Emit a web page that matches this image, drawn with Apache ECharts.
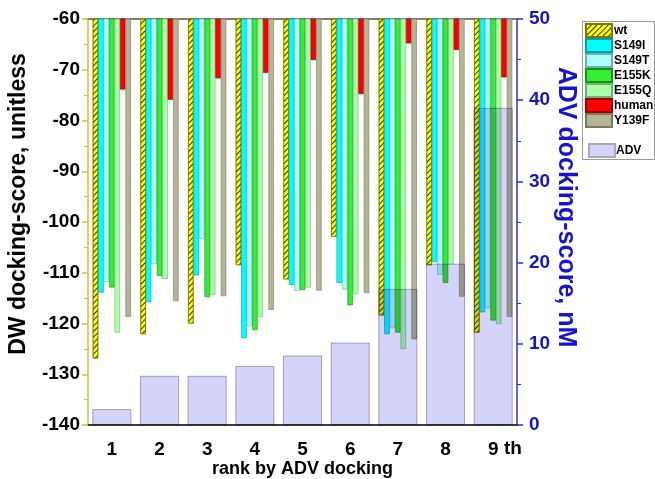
<!DOCTYPE html>
<html>
<head>
<meta charset="utf-8">
<script src="https://cdn.jsdelivr.net/npm/echarts@6/dist/echarts.min.js"></script>
<style>
html,body{margin:0;padding:0;background:#fff;}
#chart{width:655px;height:479px;}
</style>
</head>
<body>
<div id="chart"></div>
<script>
// ---- data ----
var categories = ['1','2','3','4','5','6','7','8','9'];
var wt    = [-126.9, -122.1, -120.0, -108.5, -111.3, -102.9, -118.4, -108.5, -121.8];
var S149I = [-113.9, -115.8, -110.5, -122.9, -112.4, -112.0, -122.1, -107.9, -117.8];
var S149T = [-111.8, -108.3, -103.3, -120.5, -113.6, -113.3, -120.9, -110.4, -117.0];
var E155K = [-112.9, -110.6, -114.8, -121.3, -113.4, -116.4, -121.8, -112.0, -119.4];
var E155Q = [-121.8, -111.2, -114.4, -118.7, -112.9, -114.2, -125.0, -108.3, -120.1];
var human = [-73.9, -75.9, -71.7, -70.6, -68.1, -74.8, -64.8, -66.1, -71.5];
var Y139F = [-118.7, -115.6, -114.6, -117.3, -113.5, -114.0, -123.1, -114.7, -118.7];
var ADV   = [1.9, 6.0, 6.0, 7.2, 8.5, 10.1, 16.7, 19.8, 39.0];
var dwTicks = [-140, -60, 10];   // min, max, interval
var advTicks = [0, 50, 10];

var FONT = '"Liberation Sans", Arial, sans-serif';
var chart = echarts.init(document.getElementById('chart'), null, {renderer: 'canvas'});

function dwSeries(name, data, color, border, extra) {
  var s = {
    name: name, type: 'bar', xAxisIndex: 0, yAxisIndex: 0,
    data: data, barGap: '0%', barCategoryGap: '20%', clip: true,
    itemStyle: {color: color, borderColor: border, borderWidth: 0.6},
    emphasis: {disabled: true}, z: 2
  };
  if (extra) s.itemStyle.decal = extra;
  return s;
}

var hatch = {
  symbol: 'rect', symbolSize: 1, rotation: -Math.PI / 4,
  dashArrayX: [1, 0], dashArrayY: [1, 2.2], color: 'rgba(0,0,0,0.8)'
};

var option = {
  backgroundColor: '#fff',
  animation: false,
  textStyle: {fontFamily: FONT},
  grid: {left: 88, right: 138, top: 19, bottom: 54, containLabel: false, outerBoundsMode: 'none'},
  xAxis: [
    {
      type: 'category', data: categories, position: 'bottom',
      axisLine: {lineStyle: {color: '#000', width: 1.5}},
      axisTick: {alignWithLabel: true, length: 6, lineStyle: {color: '#000', width: 1.5}},
      axisLabel: {color: '#000', fontWeight: 'bold', fontSize: 19, fontFamily: FONT, margin: 15},
      name: 'rank by ADV docking', nameLocation: 'middle', nameGap: 35, nameMoveOverlap: false,
      nameTextStyle: {color: '#000', fontWeight: 'bold', fontSize: 18, fontFamily: FONT},
      splitLine: {show: false}
    },
    {
      type: 'category', data: categories, position: 'bottom',
      axisLine: {show: false},
      axisTick: {length: 3, lineStyle: {color: '#000', width: 1}},
      axisLabel: {show: false}, splitLine: {show: false}
    },
    {
      type: 'category', data: categories, position: 'top',
      axisLine: {lineStyle: {color: '#555', width: 1.5}},
      axisTick: {inside: true, alignWithLabel: true, length: 5, lineStyle: {color: '#000', width: 2}},
      axisLabel: {show: false}, splitLine: {show: false}
    },
    {
      type: 'category', data: categories, position: 'top',
      axisLine: {show: false},
      axisTick: {length: 3, lineStyle: {color: '#000', width: 1}},
      axisLabel: {show: false}, splitLine: {show: false}
    }
  ],
  yAxis: [
    {
      type: 'value', position: 'left', min: dwTicks[0], max: dwTicks[1], interval: dwTicks[2],
      axisLine: {show: true, lineStyle: {color: '#C8C832', width: 1.5}},
      axisTick: {show: true, length: 6, lineStyle: {color: '#C8C832', width: 1.5}},
      minorTick: {show: true, splitNumber: 2, length: 4, lineStyle: {color: '#C8C832', width: 1}},
      axisLabel: {color: '#000', fontWeight: 'bold', fontSize: 19, fontFamily: FONT, margin: 8},
      splitLine: {show: false},
      name: 'DW docking-score, unitless', nameLocation: 'middle', nameGap: 58, nameMoveOverlap: false,
      nameTextStyle: {color: '#000', fontWeight: 'bold', fontSize: 23, fontFamily: FONT, padding: [0, 0, 0, 36]}
    },
    {
      type: 'value', position: 'right', min: advTicks[0], max: advTicks[1], interval: advTicks[2],
      axisLine: {show: true, lineStyle: {color: '#3030C8', width: 1.5}},
      axisTick: {show: true, length: 6, lineStyle: {color: '#3030C8', width: 1.5}},
      minorTick: {show: true, splitNumber: 2, length: 4, lineStyle: {color: '#3030C8', width: 1}},
      axisLabel: {color: '#1414C8', fontWeight: 'bold', fontSize: 19, fontFamily: FONT, margin: 12},
      splitLine: {show: false},
      name: 'ADV docking-score, nM', nameLocation: 'middle', nameGap: 36, nameRotate: -90, nameMoveOverlap: false,
      nameTextStyle: {color: '#1414D2', fontWeight: 'bold', fontSize: 25, fontFamily: FONT, padding: [0, 30, 0, 0]}
    }
  ],
  legend: [
    {
      data: ['wt', 'S149I', 'S149T', 'E155K', 'E155Q', 'human', 'Y139F'],
      orient: 'vertical', left: 585, top: 23, padding: 0, itemGap: 0,
      itemWidth: 26, itemHeight: 13, icon: 'rect', selectedMode: false,
      textStyle: {color: '#000', fontWeight: 'bold', fontSize: 12, lineHeight: 13, fontFamily: FONT, padding: [0, 0, 0, -3]}
    },
    {
      data: ['ADV'],
      orient: 'vertical', left: 588, top: 143, padding: 0,
      itemWidth: 26, itemHeight: 13, icon: 'rect', selectedMode: false,
      textStyle: {color: '#000', fontWeight: 'bold', fontSize: 12, lineHeight: 13, fontFamily: FONT, padding: [0, 0, 0, -4]}
    }
  ],
  graphic: [
    {type: 'rect', left: 582, top: 21, z: 0,
     shape: {width: 72, height: 138}, style: {fill: '#fff', stroke: '#999', lineWidth: 1}},
    {type: 'text', left: 504, top: 439, z: 10,
     style: {text: 'th', fill: '#000', font: 'bold 19px ' + FONT}}
  ],
  series: [
    dwSeries('wt', wt, '#FFFF00', '#7a7a00', hatch),
    dwSeries('S149I', S149I, '#00FFFF', '#00A0A0'),
    dwSeries('S149T', S149T, '#AAFFFF', '#70B0B0'),
    dwSeries('E155K', E155K, '#33EE33', '#189018'),
    dwSeries('E155Q', E155Q, '#AAFFAA', '#70B070'),
    dwSeries('human', human, '#FF0000', '#A00000'),
    dwSeries('Y139F', Y139F, '#B4B496', '#7a7a60'),
    {
      name: 'ADV', type: 'custom', xAxisIndex: 0, yAxisIndex: 1, z: 5,
      blendMode: 'multiply',
      itemStyle: {color: '#D4D4FA', borderColor: '#A8A8B8', borderWidth: 1},
      data: categories.map(function (c, i) { return [i, ADV[i]]; }),
      encode: {x: 0, y: 1},
      renderItem: function (params, api) {
        var idx = api.value(0), v = api.value(1);
        var top = api.coord([idx, v]);
        var base = api.coord([idx, 0]);
        var w = api.size([1, 0])[0] * 0.8;
        return {
          type: 'rect',
          shape: {x: top[0] - w / 2, y: top[1], width: w, height: base[1] - top[1]},
          style: {fill: '#D4D4FA', stroke: '#B0B0C0', lineWidth: 1}
        };
      }
    }
  ]
};
chart.setOption(option);
</script>
</body>
</html>
